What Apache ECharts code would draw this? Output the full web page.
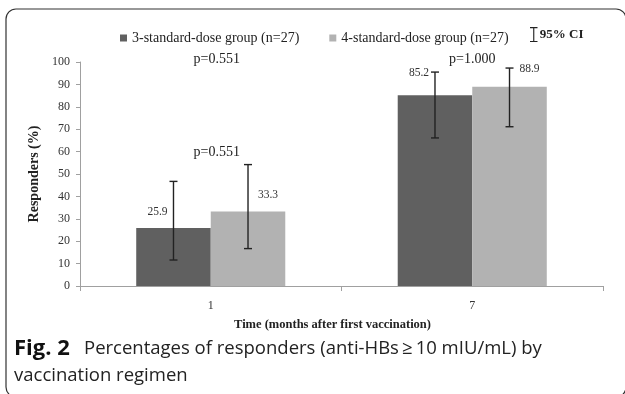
<!DOCTYPE html>
<html>
<head>
<meta charset="utf-8">
<script src="https://cdn.jsdelivr.net/npm/echarts@6/dist/echarts.min.js"></script>
<style>html,body{margin:0;padding:0;background:#fff}#c{width:625px;height:394px}</style>
</head>
<body>
<div id="c"></div>
<script>
const categories = ['1', '7'];
const seriesNames = ['3-standard-dose group (n=27)', '4-standard-dose group (n=27)'];
const group3 = [25.9, 85.2];
const group4 = [33.3, 88.9];
const ci3Low = [11.6, 66.1];
const ci3High = [46.7, 95.5];
const ci4Low = [16.7, 71.1];
const ci4High = [54.2, 97.3];
const pLabels = [
  { cat: 0, y: 101, text: 'p=0.551' },
  { cat: 0, y: 59.5, text: 'p=0.551' },
  { cat: 1, y: 101, text: 'p=1.000' }
];
const yTicks = [0, 10, 20, 30, 40, 50, 60, 70, 80, 90, 100];

const chart = echarts.init(document.getElementById('c'), null, { renderer: 'canvas' });
const SERIF = '"Liberation Serif", "Times New Roman", serif';
const CAT_GAP = 0.43;
const dark3Offsets = [[-16, -8], [-16, -14]];
const light4Offsets = [[20, -8], [20, -10]];

function errData() {
  const d = [];
  for (let i = 0; i < categories.length; i++) {
    d.push([i, ci3Low[i], ci3High[i], 0]);
    d.push([i, ci4Low[i], ci4High[i], 1]);
  }
  return d;
}

const option = {
  animation: false,
  backgroundColor: '#fff',
  grid: { left: 80, right: 22, top: 62, bottom: 108 },
  legend: [{
    left: 115, top: 26,
    itemWidth: 7, itemHeight: 7, itemGap: 30,
    textStyle: { fontFamily: SERIF, fontSize: 14, color: '#222' },
    data: [{ name: seriesNames[0], icon: 'rect' }, { name: seriesNames[1], icon: 'rect' }]
  }, {
    left: 525, top: 22,
    itemWidth: 8, itemHeight: 15, itemGap: 5,
    textStyle: { fontFamily: SERIF, fontSize: 13, fontWeight: 'bold', color: '#222', padding: [0, 0, 6, -3] },
    data: [{ name: '95% CI', icon: 'path://M0,0H10V1.5H5.75V18.5H10V20H0V18.5H4.25V1.5H0Z' }]
  }],
  xAxis: {
    type: 'category',
    data: categories,
    axisLine: { lineStyle: { color: '#a0a0a0' } },
    axisTick: { show: true, length: 5, lineStyle: { color: '#a0a0a0' }, alignWithLabel: false },
    axisLabel: { fontFamily: SERIF, fontSize: 12, color: '#333', margin: 14 },
    name: 'Time (months after first vaccination)',
    nameLocation: 'middle',
    nameGap: 32,
    nameTextStyle: { fontFamily: SERIF, fontSize: 12.5, fontWeight: 'bold', color: '#222', padding: [0, 18, 0, 0] }
  },
  yAxis: {
    type: 'value',
    min: 0, max: 100, interval: 10,
    axisLine: { show: true, lineStyle: { color: '#a0a0a0' } },
    axisTick: { show: true, length: 4, lineStyle: { color: '#a0a0a0' } },
    splitLine: { show: false },
    axisLabel: { fontFamily: SERIF, fontSize: 12, color: '#333', margin: 10 },
    name: 'Responders (%)',
    nameLocation: 'middle',
    nameGap: 33,
    nameTextStyle: { fontFamily: SERIF, fontSize: 14, fontWeight: 'bold', color: '#222' }
  },
  series: [{
    name: seriesNames[0],
    type: 'bar',
    data: group3.map((v, i) => ({ value: v, label: { offset: dark3Offsets[i] } })),
    barGap: '0%',
    barCategoryGap: (CAT_GAP * 100) + '%',
    itemStyle: { color: '#606060' },
    label: { show: true, position: 'top', fontFamily: SERIF, fontSize: 11.5, color: '#333', distance: 2 }
  }, {
    name: seriesNames[1],
    type: 'bar',
    data: group4.map((v, i) => ({ value: v, label: { offset: light4Offsets[i] } })),
    barGap: '0%',
    barCategoryGap: (CAT_GAP * 100) + '%',
    itemStyle: { color: '#b2b2b2' },
    label: { show: true, position: 'top', fontFamily: SERIF, fontSize: 11.5, color: '#333', distance: 2 }
  }, {
    name: '95% CI',
    type: 'custom',
    itemStyle: { color: '#222' },
    data: errData(),
    renderItem: function (params, api) {
      const cat = api.value(0);
      const lo = api.coord([cat, api.value(1)]);
      const hi = api.coord([cat, api.value(2)]);
      const bandW = api.size([1, 0])[0];
      const barW = bandW * (1 - CAT_GAP) / 2;
      const x = lo[0] + (api.value(3) === 0 ? -barW / 2 : barW / 2);
      const cap = 4;
      const style = { stroke: '#222', lineWidth: 1.4 };
      return {
        type: 'group',
        children: [
          { type: 'line', shape: { x1: x, y1: lo[1], x2: x, y2: hi[1] }, style: style },
          { type: 'line', shape: { x1: x - cap, y1: lo[1], x2: x + cap, y2: lo[1] }, style: style },
          { type: 'line', shape: { x1: x - cap, y1: hi[1], x2: x + cap, y2: hi[1] }, style: style }
        ]
      };
    },
    z: 5
  }, {
    name: 'p-values',
    type: 'custom',
    data: pLabels.map(p => [p.cat, p.y, p.text]),
    renderItem: function (params, api) {
      const pt = api.coord([api.value(0), api.value(1)]);
      const t = pLabels[params.dataIndex].text;
      const dx = pLabels[params.dataIndex].cat === 0 ? 6 : 0;
      return {
        type: 'text',
        style: { x: pt[0] + dx, y: pt[1], text: t, align: 'center', verticalAlign: 'middle',
          font: '14px ' + SERIF, fill: '#222' }
      };
    },
    z: 6
  }],
  graphic: [{
    type: 'rect',
    shape: { x: 6, y: 9, width: 620, height: 388, r: 10 },
    style: { fill: 'none', stroke: '#333', lineWidth: 1.2 },
    silent: true
  }, {
    type: 'text',
    left: 14, top: 338,
    style: {
      text: '{b|Fig. 2}Percentages of responders (anti-HBs\u2009\u2265\u200910 mIU/mL) by',
      font: '18.5px "Open Sans", sans-serif',
      fill: '#222',
      rich: { b: { font: 'bold 22px "Open Sans", sans-serif', fill: '#111', width: 70 } }
    }
  }, {
    type: 'text',
    left: 14, top: 366,
    style: { text: 'vaccination regimen', font: '18.5px "Open Sans", sans-serif', fill: '#222' }
  }]
};
chart.setOption(option);
</script>
</body>
</html>
